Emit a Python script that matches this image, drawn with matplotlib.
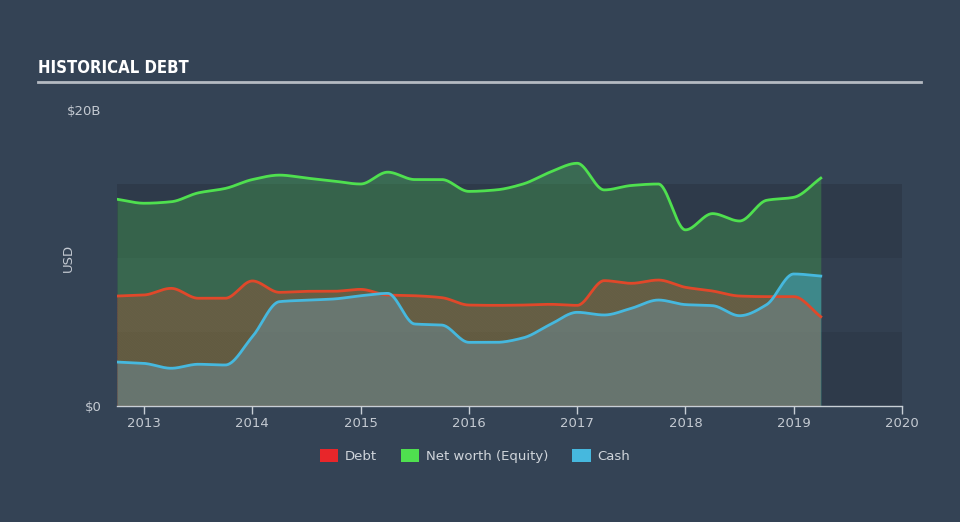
import numpy as np
import matplotlib
matplotlib.use("Agg")
import matplotlib.pyplot as plt
from matplotlib.patches import Patch

# ---- data (USD billions, quarterly) ----
dates = [2012.75, 2013.0, 2013.25, 2013.5, 2013.75, 2014.0, 2014.25, 2014.5, 2014.75,
         2015.0, 2015.25, 2015.5, 2015.75, 2016.0, 2016.25, 2016.5, 2016.75, 2017.0,
         2017.25, 2017.5, 2017.75, 2018.0, 2018.25, 2018.5, 2018.75, 2019.0, 2019.25]
equity = [13.97, 13.7, 13.8, 14.4, 14.7, 15.3, 15.6, 15.4, 15.2,
          15.0, 15.8, 15.3, 15.3, 14.5, 14.6, 15.0, 15.8, 16.4,
          14.6, 14.9, 15.0, 11.9, 13.0, 12.5, 13.9, 14.1, 15.4]
debt = [7.43, 7.5, 7.95, 7.28, 7.28, 8.45, 7.68, 7.75, 7.75,
        7.88, 7.5, 7.45, 7.32, 6.82, 6.8, 6.82, 6.87, 6.8,
        8.47, 8.29, 8.51, 8.02, 7.77, 7.43, 7.39, 7.39, 6.03]
cash = [2.97, 2.88, 2.55, 2.82, 2.77, 4.68, 7.05, 7.15, 7.23,
        7.45, 7.61, 5.54, 5.47, 4.3, 4.3, 4.6, 5.5, 6.33,
        6.15, 6.6, 7.16, 6.85, 6.78, 6.1, 6.85, 8.92, 8.78]
xticks = [2013, 2014, 2015, 2016, 2017, 2018, 2019, 2020]
ytick_vals = [0, 20]
ytick_labels = ["$0", "$20B"]
legend_labels = ["Debt", "Net worth (Equity)", "Cash"]


def pchip(x, y, xn):
    x = np.asarray(x, float); y = np.asarray(y, float)
    h = np.diff(x); delta = np.diff(y) / h
    d = np.zeros_like(y)
    for k in range(1, len(x) - 1):
        if delta[k - 1] * delta[k] <= 0:
            d[k] = 0
        else:
            w1 = 2 * h[k] + h[k - 1]; w2 = h[k] + 2 * h[k - 1]
            d[k] = (w1 + w2) / (w1 / delta[k - 1] + w2 / delta[k])
    d[0] = delta[0]; d[-1] = delta[-1]
    idx = np.clip(np.searchsorted(x, xn) - 1, 0, len(x) - 2)
    t = (xn - x[idx]) / h[idx]
    h00 = 2 * t**3 - 3 * t**2 + 1; h10 = t**3 - 2 * t**2 + t
    h01 = -2 * t**3 + 3 * t**2; h11 = t**3 - t**2
    return h00 * y[idx] + h10 * h[idx] * d[idx] + h01 * y[idx + 1] + h11 * h[idx] * d[idx + 1]


xs = np.linspace(dates[0], dates[-1], 800)
eq_s = pchip(dates, equity, xs)
de_s = pchip(dates, debt, xs)
ca_s = pchip(dates, cash, xs)

BG = "#344355"
plt.rcParams['hatch.linewidth'] = 0.7
fig = plt.figure(figsize=(9.6, 5.22), dpi=100, facecolor=BG)
ax = fig.add_axes([117 / 960, 1 - 406 / 522, (902 - 117) / 960, (406 - 110) / 522])
ax.set_facecolor(BG)
ax.set_xlim(2012.75, 2020)
ax.set_ylim(0, 20)

# background bands
for lo, hi, c in [(0, 5, "#2e3a4a"), (5, 10, "#323f50"), (10, 15, "#2e3a4a")]:
    ax.axhspan(lo, hi, color=c, zorder=0, lw=0)

GREEN = "#4fe04f"
RED = "#e0482a"
BLUE = "#46b8de"

ax.fill_between(xs, 0, eq_s, color=GREEN, alpha=0.25, lw=0, zorder=1)
ax.fill_between(xs, 0, ca_s, color=BLUE, alpha=0.42, lw=0, zorder=2)
ax.fill_between(xs, 0, de_s, facecolor="none", edgecolor=RED, hatch="\\" * 20,
                lw=0, alpha=0.32, zorder=3)

ax.plot(xs, eq_s, color=GREEN, lw=2, zorder=5)
ax.plot(xs, de_s, color=RED, lw=2, zorder=5)
ax.plot(xs, ca_s, color=BLUE, lw=2, zorder=5)

for s in ["top", "right", "left"]:
    ax.spines[s].set_visible(False)
ax.spines["bottom"].set_color("#c8cfd6")
ax.spines["bottom"].set_linewidth(1)
ax.set_xticks(xticks)
ax.set_xticklabels([str(t) for t in xticks])
ax.tick_params(axis="x", colors="#c8cfd6", labelcolor="#c4cad2", labelsize=9.5,
               length=6, width=1, pad=2)
ax.set_yticks(ytick_vals)
ax.set_yticklabels(ytick_labels)
ax.tick_params(axis="y", length=0, labelcolor="#c4cad2", labelsize=9.5, pad=11)
ax.set_ylabel("USD", color="#c4cad2", fontsize=9.5)
ax.yaxis.set_label_coords((75 - 117) / 785, 0.5)

# title and rule
fig.text(38 / 960, 1 - 68 / 522, "HISTORICAL DEBT", color="white", fontsize=12,
         fontweight="bold", fontstretch="condensed",
         family=["DejaVu Sans"], va="center", ha="left")
fig.add_artist(plt.Line2D([38 / 960, 921 / 960], [1 - 82 / 522, 1 - 82 / 522],
                          color="#b4bac2", lw=2))

# legend
handles = [Patch(facecolor="#e8262a"), Patch(facecolor="#4fe04f"), Patch(facecolor="#46b8de")]
fig.legend(handles, legend_labels, loc="center", bbox_to_anchor=(475 / 960, 1 - 456 / 522),
           ncol=3, frameon=False, labelcolor="#d0d5db", fontsize=9.5,
           handlelength=1.4, handleheight=1.1, columnspacing=1.8, handletextpad=0.5)

fig.savefig("out.png", dpi=100, facecolor=BG)
